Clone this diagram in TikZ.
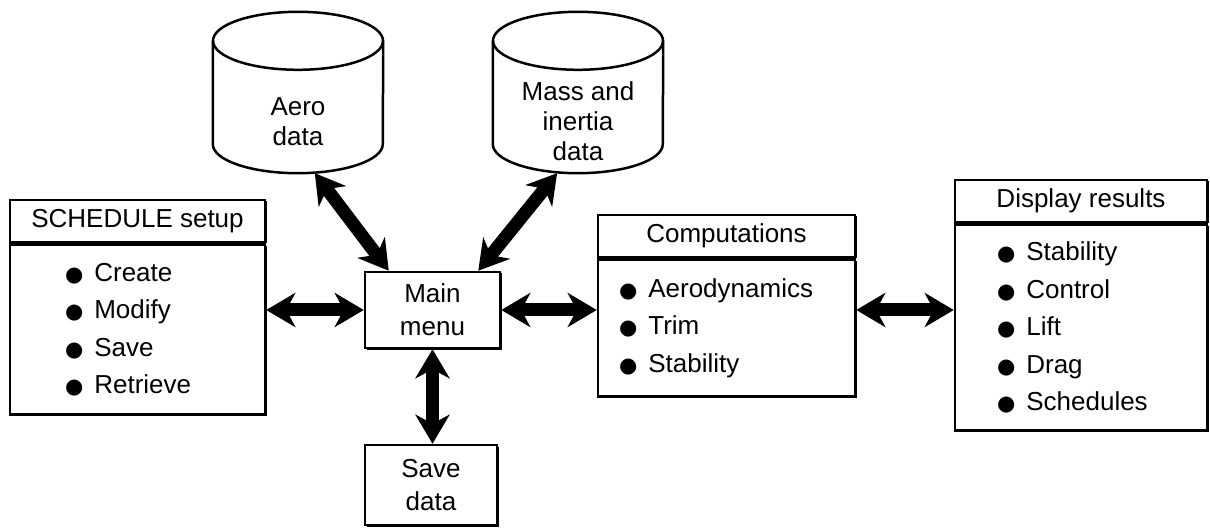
\documentclass[tikz,border=0pt]{standalone}
\usepackage{fontspec}
\setmainfont{Liberation Sans}
\newfontfamily\dotfont{DejaVu Sans}
\usetikzlibrary{positioning,arrows.meta,shadows}

% bullet in front of each list entry
\newcommand{\itm}{{\dotfont\fontsize{21}{21}\selectfont ●}\hspace{11pt}}

\tikzset{%
  bigarrow/.style = {{Stealth[length=29pt,width=34pt,inset=9pt]}-{Stealth[length=29pt,width=34pt,inset=9pt]},
        line width=13pt},
  box/.style = {rectangle,draw,line width=2.5pt,fill=white,
        drop shadow={shadow xshift=1.5pt,shadow yshift=-1.5pt,opacity=1,fill=black}},
  headbox/.style = {box,minimum width=255pt,minimum height=42pt},
  bodybox/.style = {box,align=left,minimum width=255pt},
  menubox/.style = {box,align=center,font=\fontsize{26}{33}\selectfont},
  % front face of a data store, the rims are drawn round it
  db/.style = {rectangle,minimum width=170pt,minimum height=103pt,inner sep=0pt,
        align=center,font=\fontsize{26}{30}\selectfont},
  dbline/.style = {draw,line width=2.5pt}
}

\begin{document}
\begin{tikzpicture}[x=1pt,y=-1pt,font=\fontsize{26}{37.5}\selectfont]
\useasboundingbox (0,0) rectangle (1210,529);

% data stores
\node[db] (aero) at (298,121.5) {Aero\\data};
\node[db] (mass) at (578,121.5) {Mass and\\inertia\\data};
\foreach \n in {aero,mass} {
  \draw[dbline] ([yshift=29pt]\n.north) ellipse[x radius=85pt,y radius=29pt];
  \draw[dbline] ([yshift=29pt]\n.north west) -- ([yshift=29pt]\n.south west)
      arc[start angle=180,end angle=360,x radius=85pt,y radius=29pt]
      -- ([yshift=29pt]\n.north east);
}

% centre of the program
\node[menubox,minimum width=135pt,minimum height=76pt] (main) at (432.5,310) {Main\\menu};
\node[menubox,minimum width=132pt,minimum height=80pt] (save) at (431,485) {Save\\data};

% setup
\node[headbox] (schedhead) at (137.5,221) {SCHEDULE setup};
\node[bodybox,below=0pt of schedhead,minimum height=170pt,inner xsep=55pt,text width=145pt] (sched)
    {\itm Create\\ \itm Modify\\ \itm Save\\ \itm Retrieve};

% computations
\node[headbox,minimum width=257pt] (comphead) at (726.5,236) {Computations};
\node[bodybox,below=0pt of comphead,minimum width=257pt,minimum height=137pt,inner xsep=21pt,text width=215pt] (comp)
    {\itm Aerodynamics\\ \itm Trim\\ \itm Stability};

% results
\node[headbox,minimum width=252pt] (disphead) at (1081,201) {Display results};
\node[bodybox,below=0pt of disphead,minimum width=252pt,minimum height=206pt,inner xsep=42pt,text width=168pt] (disp)
    {\itm Stability\\ \itm Control\\ \itm Lift\\ \itm Drag\\ \itm Schedules};

% data flow
\draw[bigarrow] (aero.-72) -- ([xshift=25pt]main.north west);
\draw[bigarrow] (mass.-112) -- ([xshift=-23pt]main.north east);
\draw[bigarrow] (sched.east |- main.west) -- (main.west);
\draw[bigarrow] (main.east) -- (comp.west |- main.east);
\draw[bigarrow] (comp.east |- main.east) -- (disp.west |- main.east);
\draw[bigarrow] (main.south) -- (main.south |- save.north);
\end{tikzpicture}
\end{document}
